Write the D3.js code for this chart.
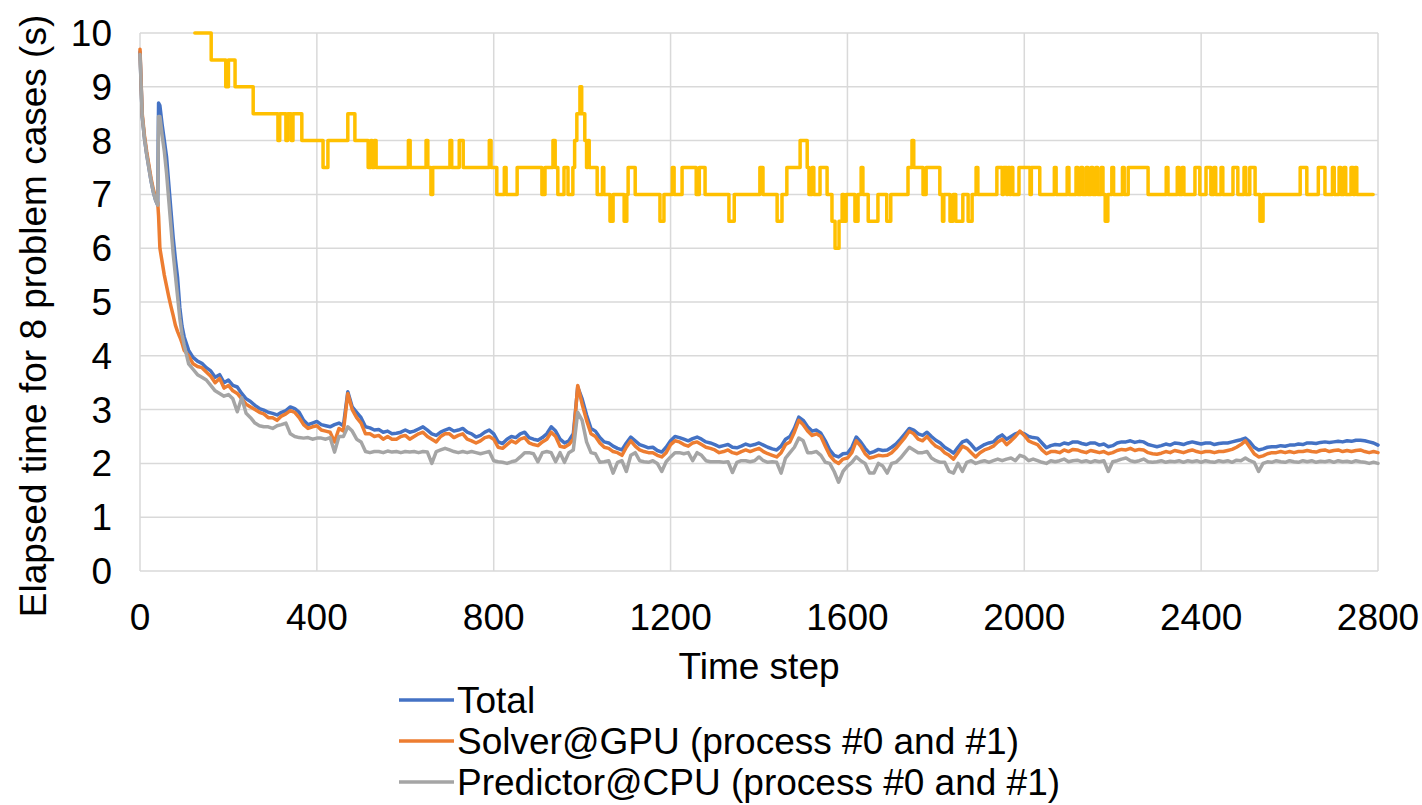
<!DOCTYPE html>
<html><head><meta charset="utf-8">
<script src="https://cdn.jsdelivr.net/npm/d3@7"></script>
<style>body{margin:0;background:#fff}svg{display:block}text{font-family:"Liberation Sans",Arial,sans-serif;fill:#000}</style>
</head><body><svg id="c" width="1422" height="805"></svg>
<script>
const earlySteps = [0,5,10,15,20,25,30,35,40,42,45,50,55,60,65,70,75,80,85,90,95,100];
const timeSteps = earlySteps.concat(d3.range(110, 2801, 10));

const totalValues = [
9.65,8.45,8.05,7.75,7.5,7.25,7.05,6.9,6.8,8.7,8.65,8.3,8.0,7.7,7.2,6.7,6.2,5.8,5.45,4.9,4.55,4.35,
4.1,3.97,3.9,3.86,3.78,3.72,3.6,3.65,3.5,3.55,
3.45,3.42,3.3,3.2,3.15,3.08,3.02,2.99,2.95,2.93,
2.9,2.95,2.98,3.05,3.02,2.95,2.8,2.72,2.75,2.78,
2.72,2.7,2.68,2.72,2.75,2.7,3.33,3.05,2.95,2.85,
2.68,2.66,2.62,2.63,2.58,2.6,2.55,2.56,2.58,2.62,
2.58,2.6,2.64,2.68,2.62,2.55,2.52,2.58,2.62,2.65,
2.6,2.62,2.65,2.58,2.55,2.49,2.52,2.58,2.62,2.55,
2.4,2.37,2.45,2.5,2.48,2.55,2.58,2.48,2.45,2.43,
2.48,2.55,2.68,2.6,2.45,2.38,2.42,2.55,3.42,3.2,
2.9,2.65,2.6,2.48,2.4,2.38,2.32,2.28,2.25,2.38,
2.49,2.42,2.35,2.32,2.29,2.3,2.24,2.21,2.3,2.42,
2.5,2.48,2.45,2.42,2.46,2.49,2.45,2.4,2.38,2.35,
2.31,2.33,2.35,2.3,2.29,2.32,2.36,2.33,2.35,2.38,
2.34,2.3,2.27,2.25,2.32,2.45,2.5,2.65,2.86,2.8,
2.68,2.6,2.62,2.56,2.42,2.25,2.15,2.12,2.18,2.19,
2.3,2.49,2.4,2.28,2.19,2.22,2.26,2.24,2.25,2.3,
2.36,2.45,2.55,2.65,2.62,2.55,2.52,2.58,2.5,2.43,
2.38,2.3,2.25,2.19,2.3,2.4,2.43,2.35,2.25,2.3,
2.35,2.38,2.4,2.48,2.53,2.45,2.5,2.55,2.58,2.55,
2.5,2.48,2.47,2.38,2.29,2.33,2.35,2.34,2.38,2.36,
2.4,2.4,2.37,2.35,2.38,2.38,2.34,2.36,2.31,2.33,
2.38,2.4,2.4,2.42,2.39,2.41,2.4,2.35,2.33,2.31,
2.33,2.36,2.34,2.38,2.37,2.35,2.38,2.4,2.38,2.36,
2.38,2.38,2.35,2.37,2.38,2.38,2.4,2.42,2.44,2.47,
2.4,2.3,2.25,2.27,2.3,2.31,2.31,2.33,2.32,2.34,
2.34,2.36,2.35,2.38,2.38,2.37,2.39,2.4,2.39,2.4,
2.41,2.4,2.42,2.41,2.43,2.43,2.42,2.4,2.38,2.34];

const solverValues = [
9.7,8.5,8.1,7.8,7.55,7.3,7.1,6.95,6.85,6.6,6.0,5.75,5.5,5.3,5.1,4.92,4.75,4.57,4.45,4.35,4.24,4.1,
4.0,3.85,3.8,3.78,3.7,3.62,3.5,3.58,3.4,3.45,
3.35,3.3,3.2,3.1,3.05,3.0,2.95,2.92,2.85,2.85,
2.8,2.88,2.92,2.98,2.95,2.85,2.72,2.65,2.68,2.7,
2.62,2.6,2.58,2.4,2.65,2.6,3.3,3.0,2.85,2.75,
2.55,2.55,2.5,2.52,2.45,2.5,2.45,2.45,2.5,2.52,
2.45,2.5,2.55,2.58,2.5,2.45,2.4,2.5,2.55,2.55,
2.48,2.52,2.55,2.45,2.42,2.38,2.42,2.48,2.5,2.45,
2.3,2.28,2.35,2.42,2.38,2.45,2.48,2.38,2.35,2.33,
2.4,2.45,2.58,2.5,2.32,2.3,2.35,2.45,3.45,3.1,
2.8,2.55,2.5,2.38,2.3,2.28,2.22,2.2,2.15,2.3,
2.42,2.32,2.25,2.22,2.2,2.2,2.15,2.12,2.2,2.35,
2.42,2.4,2.35,2.32,2.38,2.4,2.35,2.3,2.28,2.25,
2.2,2.22,2.25,2.2,2.18,2.22,2.25,2.22,2.25,2.28,
2.22,2.18,2.15,2.12,2.2,2.35,2.4,2.58,2.8,2.72,
2.6,2.52,2.55,2.5,2.32,2.15,2.05,2.0,2.08,2.1,
2.2,2.42,2.32,2.18,2.1,2.12,2.15,2.14,2.15,2.2,
2.28,2.38,2.48,2.6,2.55,2.45,2.42,2.5,2.4,2.32,
2.28,2.2,2.15,2.08,2.2,2.32,2.28,2.2,2.12,2.2,
2.25,2.28,2.32,2.4,2.45,2.35,2.42,2.5,2.6,2.52,
2.42,2.38,2.35,2.25,2.18,2.22,2.22,2.2,2.25,2.22,
2.26,2.25,2.22,2.2,2.24,2.22,2.2,2.22,2.18,2.2,
2.24,2.26,2.25,2.28,2.24,2.26,2.25,2.2,2.18,2.17,
2.19,2.22,2.2,2.24,2.22,2.2,2.23,2.25,2.22,2.2,
2.22,2.22,2.2,2.22,2.22,2.24,2.26,2.3,2.35,2.42,
2.3,2.18,2.12,2.14,2.18,2.2,2.2,2.22,2.2,2.22,
2.2,2.22,2.22,2.24,2.22,2.21,2.24,2.25,2.22,2.24,
2.25,2.22,2.24,2.22,2.24,2.25,2.22,2.2,2.22,2.2];

const predictorValues = [
9.6,8.45,8.05,7.75,7.5,7.25,7.05,6.9,6.8,8.45,8.45,8.1,7.8,7.4,6.9,6.4,5.9,5.5,5.1,4.7,4.4,4.2,
3.85,3.75,3.65,3.6,3.55,3.45,3.35,3.3,3.25,3.28,
3.2,2.96,3.22,2.93,2.85,2.75,2.7,2.68,2.68,2.65,
2.7,2.72,2.75,2.55,2.5,2.48,2.47,2.48,2.45,2.47,
2.47,2.45,2.48,2.21,2.5,2.5,2.68,2.6,2.45,2.4,
2.22,2.2,2.22,2.22,2.2,2.23,2.21,2.22,2.2,2.22,
2.21,2.22,2.2,2.22,2.21,2.0,2.22,2.25,2.28,2.25,
2.22,2.2,2.22,2.2,2.22,2.2,2.18,2.2,2.22,2.05,
2.03,2.02,2.0,2.03,2.05,2.12,2.2,2.2,2.18,2.03,
2.2,2.22,2.2,2.03,2.2,2.02,2.2,2.25,2.95,2.8,
2.4,2.2,2.18,2.02,2.03,2.05,1.82,2.02,2.05,1.85,
2.15,2.2,2.05,2.03,2.02,2.05,2.0,1.85,2.03,2.12,
2.2,2.2,2.18,2.2,2.05,2.2,2.15,2.05,2.03,2.03,
2.03,2.02,2.03,1.83,2.02,2.05,2.05,2.03,2.05,2.12,
2.05,2.02,2.03,2.02,1.82,2.1,2.2,2.3,2.47,2.42,
2.2,2.2,2.22,2.15,2.02,2.0,1.85,1.65,1.85,1.95,
2.02,2.12,2.05,2.0,1.82,1.82,2.0,1.95,1.82,2.0,
2.02,2.1,2.2,2.3,2.25,2.2,2.2,2.22,2.1,2.05,
2.02,2.02,1.85,1.82,2.0,1.85,2.02,2.05,2.0,2.03,
2.05,2.02,2.05,2.08,2.05,2.08,2.1,2.05,2.15,2.12,
2.05,2.08,2.05,2.02,2.0,2.05,2.03,2.05,2.08,2.03,
2.05,2.06,2.03,2.05,2.02,2.05,2.03,2.05,1.85,2.03,
2.05,2.08,2.1,2.05,2.03,2.05,2.08,2.03,2.02,2.03,
2.05,2.02,2.04,2.03,2.05,2.02,2.05,2.03,2.05,2.02,
2.05,2.03,2.02,2.05,2.03,2.05,2.02,2.06,2.05,2.1,
2.05,2.02,1.85,2.0,2.03,2.02,2.05,2.03,2.02,2.05,
2.03,2.02,2.05,2.03,2.05,2.02,2.04,2.03,2.05,2.02,
2.05,2.03,2.04,2.02,2.05,2.03,2.02,2.0,2.02,2.0];

// fourth (unlabelled, yellow) series: change points, held until the next one
const yellowSteps = [124,161,194,200,215,256,312,316,330,334,342,346,366,414,425,470,486,516,522,525,530,534,607,611,647,651,658,662,701,705,722,731,790,794,807,824,828,853,
909,916,934,939,945,959,968,979,983,988,995,999,1006,1010,1013,1016,1034,1046,1049,1063,1070,1095,1101,1104,1120,1176,1185,1204,1208,1226,1258,1265,1278,1332,1344,1402,1409,1441,1452,1463,1493,1509,1513,1520,1524,1538,1554,1565,1572,1581,1588,1592,1597,1617,1624,1631,1635,1647,1669,1689,1698,1737,1746,1750,1771,1778,1809,1815,1818,1832,1839,1845,1861,1873,1882,1891,1895,
1938,1950,1953,1960,1963,1967,1970,1974,1988,2013,2016,2035,2068,2072,2097,2101,2117,2121,2128,2132,2140,2144,2151,2155,2162,2166,2174,2178,2183,2189,2198,2202,2222,2226,2235,2280,2321,2325,2346,2350,2357,2361,2386,2397,2411,2422,2429,2433,2445,2449,2472,2483,2497,2501,2510,2522,2533,2540,2624,2639,2665,2680,2697,2701,2712,2716,2723,2727,2739,2744,2748,2752,2759,2789,2800];
const yellowValues = [10,9.5,9,9.5,9,8.5,8,8.5,8,8.5,8,8.5,8,7.5,8,8.5,8,7.5,8,7.5,8,7.5,8,7.5,8,7.5,7,7.5,8,7.5,8,7.5,8,7.5,7,7.5,7,7.5,
7,7.5,8,7.5,7,7.5,7,7.5,8,8.5,9,8.5,8,7.5,8,7.5,7,7.5,7,6.5,7,6.5,7,7.5,7,6.5,7,7.5,7,7.5,7,7.5,7,6.5,7,7.5,7,6.5,7,7.5,8,7.5,7,7.5,7,7.5,7,6.5,6,6.5,7,6.5,7,6.5,7,7.5,7,6.5,7,6.5,7,7.5,8,7.5,7,7.5,7,6.5,7,6.5,7,6.5,7,6.5,7,7.5,7,
7.5,7,7.5,7,7.5,7,7.5,7,7.5,7,7.5,7,7.5,7,7.5,7,7.5,7,7.5,7,7.5,7,7.5,7,7.5,7,7.5,7,6.5,7,7.5,7,7.5,7,7.5,7,7.5,7,7.5,7,7.5,7,7.5,7,7.5,7,7.5,7,7.5,7,7.5,7,7.5,7,7.5,7,6.5,7,7.5,7,7.5,7,7.5,7,7.5,7,7.5,7,7.5,7,7.5,7,7];

const xTicks = [0,400,800,1200,1600,2000,2400,2800];
const yTicks = [0,1,2,3,4,5,6,7,8,9,10];
const seriesNames = ["Total","Solver@GPU (process #0 and #1)","Predictor@CPU (process #0 and #1)"];
const seriesColors = ["#4472C4","#ED7D31","#A5A5A5"];
const yellowColor = "#FFC000";

const svg = d3.select("#c");
const x = d3.scaleLinear().domain([0,2800]).range([140,1378]);
const y = d3.scaleLinear().domain([0,10]).range([571,33]);
const grid = "#D9D9D9";
const fs = 37;

svg.append("g").selectAll("line").data(yTicks).join("line")
  .attr("x1",x(0)).attr("x2",x(2800)).attr("y1",d=>y(d)).attr("y2",d=>y(d))
  .attr("stroke",grid).attr("stroke-width",1.5);
svg.append("g").selectAll("line").data(xTicks).join("line")
  .attr("y1",y(0)).attr("y2",y(10)).attr("x1",d=>x(d)).attr("x2",d=>x(d))
  .attr("stroke",grid).attr("stroke-width",1.5);

svg.append("defs").append("clipPath").attr("id","pc").append("rect")
  .attr("x",x(0)-3).attr("y",y(10)-2).attr("width",x(2800)-x(0)+6).attr("height",y(0)-y(10)+4);

const plot = svg.append("g").attr("clip-path","url(#pc)");
const line = d3.line().x(d=>x(d[0])).y(d=>y(d[1]));
[totalValues, solverValues, predictorValues].forEach((vals,i)=>{
  plot.append("path").datum(timeSteps.map((t,j)=>[t,vals[j]]))
    .attr("d",line).attr("fill","none").attr("stroke",seriesColors[i])
    .attr("stroke-width",3.5).attr("stroke-linejoin","round").attr("stroke-linecap","round");
});
const stepLine = d3.line().curve(d3.curveStepAfter).x(d=>x(d[0])).y(d=>y(d[1]));
plot.append("path").datum(yellowSteps.map((t,j)=>[t,yellowValues[j]]))
  .attr("d",stepLine).attr("fill","none").attr("stroke",yellowColor)
  .attr("stroke-width",3.5).attr("stroke-linejoin","round").attr("stroke-linecap","round");

// tick labels
svg.append("g").selectAll("text").data(yTicks).join("text")
  .attr("x",112).attr("y",d=>y(d)+13).attr("text-anchor","end")
  .attr("font-size",fs).text(d=>d);
svg.append("g").selectAll("text").data(xTicks).join("text")
  .attr("x",d=>x(d)).attr("y",630).attr("text-anchor","middle")
  .attr("font-size",fs).text(d=>d);

svg.append("text").attr("x",x(1400)).attr("y",679).attr("text-anchor","middle")
  .attr("font-size",fs).text("Time step");
svg.append("text").attr("transform","translate(46,316) rotate(-90)").attr("text-anchor","middle")
  .attr("font-size",fs).text("Elapsed time for 8 problem cases (s)");

// legend
const lg = svg.append("g");
seriesNames.forEach((n,i)=>{
  const cy = 700 + i*41;
  lg.append("line").attr("x1",399).attr("x2",454).attr("y1",cy).attr("y2",cy)
    .attr("stroke",seriesColors[i]).attr("stroke-width",3.5);
  lg.append("text").attr("x",457).attr("y",cy+13).attr("font-size",fs).text(n);
});
</script></body></html>
